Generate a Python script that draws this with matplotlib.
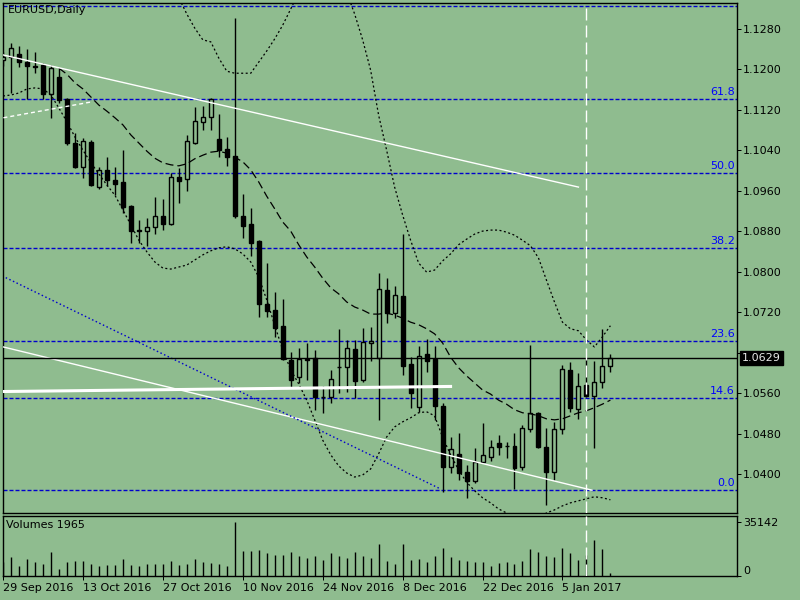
import numpy as np
import matplotlib
matplotlib.use("Agg")
import matplotlib.pyplot as plt
from matplotlib.patches import Rectangle

plt.rcParams["font.family"] = ["DejaVu Sans"]
plt.rcParams["font.size"] = 8
plt.rcParams["lines.scale_dashes"] = False

BG = "#8fbc8f"
PX = 0.72  # one pixel in points at dpi 100

# EURUSD daily bars, 29 Sep 2016 .. 13 Jan 2017
opens = [1.1218, 1.1224, 1.1230, 1.1214, 1.1206, 1.1208, 1.1151, 1.1185, 1.1141, 1.1054,
         1.1007, 1.1056, 1.0967, 1.1001, 1.0981, 1.0977, 1.0930, 1.0882, 1.0880, 1.0888,
         1.0910, 1.0894, 1.0987, 1.0983, 1.1054, 1.1096, 1.1106, 1.1062, 1.1042, 1.1028,
         1.0910, 1.0894, 1.0860, 1.0736, 1.0724, 1.0693, 1.0625, 1.0592, 1.0627, 1.0629,
         1.0552, 1.0552, 1.0612, 1.0612, 1.0647, 1.0586, 1.0659, 1.0629, 1.0764, 1.0718,
         1.0752, 1.0617, 1.0532, 1.0637, 1.0627, 1.0534, 1.0414, 1.0440, 1.0404, 1.0386,
         1.0424, 1.0434, 1.0461, 1.0455, 1.0455, 1.0414, 1.0489, 1.0521, 1.0453, 1.0404,
         1.0489, 1.0606, 1.0529, 1.0576, 1.0554, 1.0582, 1.0613]
highs = [1.1234, 1.1252, 1.1246, 1.1240, 1.1234, 1.1212, 1.1208, 1.1202, 1.1143, 1.1074,
         1.1064, 1.1060, 1.1007, 1.1026, 1.1007, 1.1040, 1.0932, 1.0902, 1.0906, 1.0947,
         1.0943, 1.0995, 1.1005, 1.1070, 1.1125, 1.1127, 1.1143, 1.1111, 1.1066, 1.1301,
         1.0953, 1.0926, 1.0862, 1.0817, 1.0760, 1.0746, 1.0641, 1.0649, 1.0659, 1.0645,
         1.0574, 1.0606, 1.0687, 1.0665, 1.0665, 1.0689, 1.0691, 1.0797, 1.0787, 1.0772,
         1.0874, 1.0631, 1.0653, 1.0667, 1.0653, 1.0540, 1.0473, 1.0481, 1.0418, 1.0451,
         1.0501, 1.0467, 1.0477, 1.0463, 1.0481, 1.0497, 1.0655, 1.0523, 1.0491, 1.0503,
         1.0615, 1.0621, 1.0600, 1.0629, 1.0623, 1.0687, 1.0637]
lows = [1.1206, 1.1153, 1.1204, 1.1141, 1.1192, 1.1141, 1.1104, 1.1133, 1.1050, 1.1005,
        1.0985, 1.0969, 1.0963, 1.0969, 1.0951, 1.0916, 1.0857, 1.0857, 1.0851, 1.0874,
        1.0882, 1.0892, 1.0936, 1.0959, 1.1052, 1.1080, 1.1080, 1.1026, 1.1009, 1.0906,
        1.0866, 1.0831, 1.0710, 1.0710, 1.0671, 1.0625, 1.0570, 1.0580, 1.0586, 1.0527,
        1.0521, 1.0540, 1.0560, 1.0562, 1.0550, 1.0582, 1.0623, 1.0507, 1.0698, 1.0708,
        1.0596, 1.0530, 1.0523, 1.0602, 1.0507, 1.0365, 1.0402, 1.0388, 1.0353, 1.0382,
        1.0422, 1.0426, 1.0438, 1.0432, 1.0370, 1.0408, 1.0483, 1.0451, 1.0339, 1.0388,
        1.0479, 1.0523, 1.0509, 1.0552, 1.0451, 1.0570, 1.0602]
closes = [1.1224, 1.1242, 1.1214, 1.1206, 1.1204, 1.1151, 1.1202, 1.1139, 1.1054, 1.1007,
          1.1058, 1.0971, 1.1001, 1.0981, 1.0973, 1.0928, 1.0880, 1.0881, 1.0888, 1.0910,
          1.0894, 1.0987, 1.0979, 1.1058, 1.1098, 1.1106, 1.1141, 1.1040, 1.1026, 1.0910,
          1.0890, 1.0857, 1.0736, 1.0722, 1.0689, 1.0627, 1.0586, 1.0627, 1.0626, 1.0552,
          1.0553, 1.0588, 1.0611, 1.0649, 1.0584, 1.0661, 1.0663, 1.0766, 1.0718, 1.0754,
          1.0613, 1.0560, 1.0633, 1.0623, 1.0534, 1.0414, 1.0450, 1.0402, 1.0386, 1.0424,
          1.0438, 1.0453, 1.0453, 1.0456, 1.0412, 1.0491, 1.0521, 1.0453, 1.0404, 1.0489,
          1.0608, 1.0531, 1.0574, 1.0554, 1.0582, 1.0613, 1.0629]
volumes = [9000, 12400, 6500, 11100, 9100, 8000, 15600, 4300, 9100, 9800,
           9800, 8000, 6500, 6900, 7400, 11100, 6900, 6500, 7600, 8000,
           8000, 9800, 7400, 8000, 11100, 9100, 8500, 8000, 6500, 35142,
           16300, 16300, 16900, 15000, 13900, 13900, 15600, 13200, 12000, 13000,
           10400, 15000, 13000, 11700, 15600, 13000, 11700, 20800, 9800, 7800,
           20800, 10400, 11100, 9100, 13000, 18200, 12400, 10400, 9800, 9100,
           9100, 6500, 8500, 9100, 7800, 9800, 17600, 15600, 13000, 12400,
           18200, 15000, 10400, 13500, 23400, 17600, 1965]

# band indicator (dotted) and moving average (dashed), None where off the chart
upper_band = [None] * 22 + [
    1.1341, 1.1309, 1.1281, 1.1258, 1.1254, 1.1222, 1.1196, 1.1192, 1.1192, 1.1192,
    1.1214, 1.1236, 1.1260, 1.1287, 1.1319, 1.1352] + [None] * 5 + [
    1.1352, 1.1309, 1.1258, 1.1198, 1.1109, 1.1040, 1.0967, 1.0912, 1.0862, 1.0817,
    1.0799, 1.0803, 1.0821, 1.0835, 1.0853, 1.0864, 1.0874, 1.0880, 1.0882, 1.0882,
    1.0878, 1.0872, 1.0862, 1.0851, 1.0827, 1.0783, 1.0740, 1.0700, 1.0687, 1.0683,
    1.0665, 1.0651, 1.0671, 1.0693]
middle_line = [None] * 7 + [
    1.1202, 1.1190, 1.1173, 1.1161, 1.1145, 1.1129, 1.1117, 1.1104, 1.1090, 1.1070,
    1.1054, 1.1038, 1.1024, 1.1015, 1.1011, 1.1009, 1.1013, 1.1023, 1.1030, 1.1036,
    1.1038, 1.1034, 1.1026, 1.1017, 1.1001, 1.0977, 1.0949, 1.0924, 1.0898, 1.0880,
    1.0853, 1.0829, 1.0809, 1.0787, 1.0768, 1.0756, 1.0740, 1.0730, 1.0724, 1.0716,
    1.0716, 1.0718, 1.0714, 1.0708, 1.0700, 1.0695, 1.0687, 1.0677, 1.0659, 1.0631,
    1.0610, 1.0594, 1.0580, 1.0566, 1.0558, 1.0546, 1.0538, 1.0527, 1.0521, 1.0519,
    1.0515, 1.0509, 1.0507, 1.0509, 1.0515, 1.0521, 1.0525, 1.0531, 1.0538, 1.0546]
lower_band = [
    1.1147, 1.1149, 1.1153, 1.1161, 1.1163, 1.1161, 1.1149, 1.1123, 1.1096, 1.1066,
    1.1040, 1.1015, 1.0993, 1.0971, 1.0951, 1.0922, 1.0892, 1.0862, 1.0839, 1.0819,
    1.0807, 1.0805, 1.0809, 1.0813, 1.0823, 1.0833, 1.0841, 1.0847, 1.0849, 1.0845,
    1.0835, 1.0819, 1.0789, 1.0744, 1.0694, 1.0645, 1.0606, 1.0578, 1.0546, 1.0507,
    1.0467, 1.0438, 1.0416, 1.0402, 1.0394, 1.0398, 1.0410, 1.0440, 1.0473, 1.0493,
    1.0503, 1.0511, 1.0521, 1.0523, 1.0515, 1.0473, 1.0438, 1.0408, 1.0384, 1.0367,
    1.0353, 1.0343, 1.0331, 1.0323, 1.0313, 1.0309, 1.0309, 1.0313, 1.0323, 1.0329,
    1.0337, 1.0343, 1.0347, 1.0351, 1.0355, 1.0353, 1.0349]

# Fibonacci retracement levels
fib_levels = [1.1325, 1.1141, 1.0994, 1.0846, 1.0663, 1.0550, 1.0368]
fib_labels = ["", "61.8", "50.0", "38.2", "23.6", "14.6", "0.0"]

# drawn trendlines (bar index, price)
trend_top_x, trend_top_y = [0.05, 72.0], [1.1228, 1.0967]
trend_short_x, trend_short_y = [0.05, 10.96], [1.1104, 1.1135]
trend_low_x, trend_low_y = [0.05, 73.7], [1.0651, 1.0368]
fib_diag_x, fib_diag_y = [0.34, 54.8], [1.0788, 1.0370]
support_x, support_y = [0.09, 56.0], [1.0563, 1.0573]

last_price = 1.0629
marker_bar = 73
price_ticks = [1.0400, 1.0480, 1.0560, 1.0640, 1.0720, 1.0800, 1.0880, 1.0960,
               1.1040, 1.1120, 1.1200, 1.1280]
date_ticks = [0, 10, 20, 30, 40, 50, 60, 70]
date_labels = ["29 Sep 2016", "13 Oct 2016", "27 Oct 2016", "10 Nov 2016",
               "24 Nov 2016", "8 Dec 2016", "22 Dec 2016", "5 Jan 2017"]

n = len(closes)
bars = np.arange(n)

fig = plt.figure(figsize=(8, 6), dpi=100, facecolor=BG)
ax = fig.add_axes([3 / 800, 87 / 600, 734 / 800, 510 / 600], facecolor=BG)
axv = fig.add_axes([3 / 800, 24 / 600, 734 / 800, 60.5 / 600], facecolor=BG, sharex=ax)

xlim = (0.09, 91.84)
ax.set_xlim(*xlim)
ax.set_ylim(1.03229, 1.13308)

# fib lines
for lev, lab in zip(fib_levels, fib_labels):
    ax.axhline(lev, color="#0000cd", lw=1.0, ls=(0, (4 * PX, 2 * PX)), zorder=1)
    if lab:
        ax.annotate(lab, xy=(0.997, lev), xycoords=("axes fraction", "data"),
                    xytext=(0, 1.5), textcoords="offset points",
                    ha="right", va="bottom", color="#0000ff", fontsize=8)

# candles
for i in range(n):
    o, h, l, c = opens[i], highs[i], lows[i], closes[i]
    ax.vlines(i, l, h, color="black", lw=1.0, zorder=2)
    bull = c >= o
    bottom = min(o, c)
    height = max(abs(c - o), 0.00001)
    ax.add_patch(Rectangle((i - 0.25, bottom), 0.5, height,
                           facecolor=BG if bull else "black", edgecolor="black",
                           lw=1.0, zorder=3))

# indicators
up = np.array(upper_band, dtype=float)
mid = np.array(middle_line, dtype=float)
lo = np.array(lower_band, dtype=float)
ax.plot(bars, up, color="black", lw=0.9, ls=(0, (2 * PX, 2.5 * PX)), zorder=4)
ax.plot(bars, lo, color="black", lw=0.9, ls=(0, (2 * PX, 2.5 * PX)), zorder=4)
ax.plot(bars, mid, color="black", lw=0.9, ls=(0, (8 * PX, 4 * PX)), zorder=4)

# objects
ax.plot(trend_top_x, trend_top_y, color="white", lw=1.0, zorder=5)
ax.plot(trend_short_x, trend_short_y, color="white", lw=1.0, ls=(0, (4 * PX, 3 * PX)), zorder=5)
ax.plot(trend_low_x, trend_low_y, color="white", lw=1.0, zorder=5)
ax.plot(fib_diag_x, fib_diag_y, color="#0000cd", lw=1.0, ls=(0, (1.5 * PX, 2.5 * PX)), zorder=5)
ax.plot(support_x, support_y, color="white", lw=2.2, zorder=5)
ax.axhline(last_price, color="black", lw=1.0, zorder=5)
ax.axvline(marker_bar, color="white", lw=1.0, ls=(0, (12 * PX, 5 * PX)), zorder=5)

ax.text(0.006, 0.997, "EURUSD,Daily", transform=ax.transAxes, ha="left", va="top",
        fontsize=8, color="black")

# right price scale; the 1.0640 label sits under the last-price box
ax.yaxis.tick_right()
ax.set_yticks(price_ticks)
ax.set_yticklabels([f"{t:.4f}" if abs(t - last_price) > 0.002 else "" for t in price_ticks])
ax.tick_params(axis="y", direction="out", length=4 * PX, width=1.0 * PX, pad=1.5,
               labelsize=8, colors="black")
ax.tick_params(axis="x", bottom=False, labelbottom=False)
ax.annotate(f"{last_price:.4f}", xy=(1.0, last_price), xycoords=("axes fraction", "data"),
            xytext=(5 * PX, 0), textcoords="offset points", ha="left", va="center",
            fontsize=8, color="#e8e8e8", zorder=10,
            bbox=dict(boxstyle="square,pad=0.15", facecolor="black", edgecolor="black"))

for sp in ax.spines.values():
    sp.set_linewidth(1.0)

# volume panel
axv.vlines(bars, 0, volumes, color="black", lw=1.0)
axv.axvline(marker_bar, color="white", lw=1.0, ls=(0, (12 * PX, 5 * PX)), zorder=5)
axv.set_ylim(0, 39372)
axv.set_xlim(*xlim)
axv.yaxis.tick_right()
axv.set_yticks([0, 35142])
axv.set_yticklabels(["0", "35142"])
axv.tick_params(axis="y", direction="out", length=4 * PX, width=1.0 * PX, pad=1.5, labelsize=8)
axv.get_yticklabels()[0].set_va("bottom")
axv.set_xticks(date_ticks)
axv.set_xticklabels(date_labels)
for lab in axv.get_xticklabels():
    lab.set_ha("left")
axv.tick_params(axis="x", direction="out", length=4 * PX, width=1.0 * PX, pad=2, labelsize=8)
axv.text(0.004, 0.93, f"Volumes {volumes[-1]}", transform=axv.transAxes, ha="left", va="top",
         fontsize=8)
for sp in axv.spines.values():
    sp.set_linewidth(1.0)

fig.savefig("out.png", dpi=100, facecolor=BG)
